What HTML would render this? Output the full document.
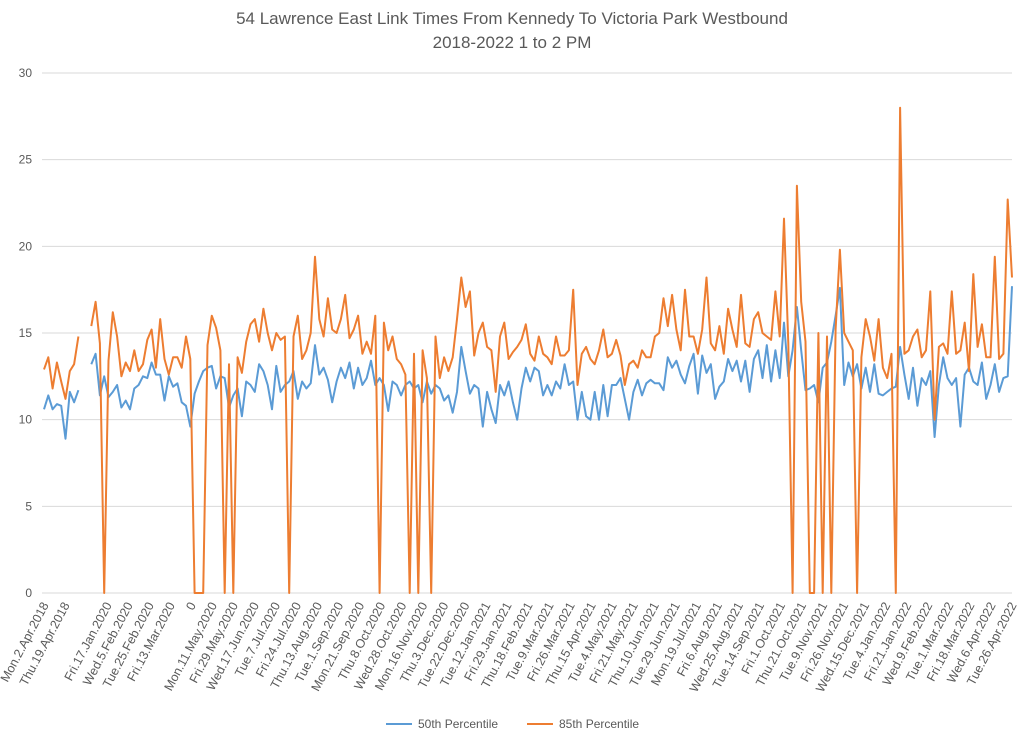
<!DOCTYPE html>
<html><head><meta charset="utf-8"><style>
body{margin:0;background:#fff;}
svg{display:block;font-family:"Liberation Sans",sans-serif;}
</style></head><body>
<svg id="chart" width="1024" height="740">
<text x="512" y="24" text-anchor="middle" font-size="17" fill="#595959">54 Lawrence East Link Times From Kennedy To Victoria Park Westbound</text>
<text x="512" y="48" text-anchor="middle" font-size="17" fill="#595959">2018-2022 1 to 2 PM</text>
<g id="grid"></g>
<g id="ylabels"></g>
<g id="xlabels"></g>
<g id="series"></g>
<g>
<line x1="386" y1="724" x2="412" y2="724" stroke="#5b9bd5" stroke-width="2"/>
<text x="418" y="728" font-size="12" fill="#595959">50th Percentile</text>
<line x1="527" y1="724" x2="553" y2="724" stroke="#ed7d31" stroke-width="2"/>
<text x="559" y="728" font-size="12" fill="#595959">85th Percentile</text>
</g>
</svg>
<script>
const yTicks=[0,5,10,15,20,25,30];
const xLabels=["Mon.2.Apr.2018","Thu.19.Apr.2018","","Fri.17.Jan.2020","Wed.5.Feb.2020","Tue.25.Feb.2020","Fri.13.Mar.2020","0","Mon.11.May.2020","Fri.29.May.2020","Wed.17.Jun.2020","Tue.7.Jul.2020","Fri.24.Jul.2020","Thu.13.Aug.2020","Tue.1.Sep.2020","Mon.21.Sep.2020","Thu.8.Oct.2020","Wed.28.Oct.2020","Mon.16.Nov.2020","Thu.3.Dec.2020","Tue.22.Dec.2020","Tue.12.Jan.2021","Fri.29.Jan.2021","Thu.18.Feb.2021","Tue.9.Mar.2021","Fri.26.Mar.2021","Thu.15.Apr.2021","Tue.4.May.2021","Fri.21.May.2021","Thu.10.Jun.2021","Tue.29.Jun.2021","Mon.19.Jul.2021","Fri.6.Aug.2021","Wed.25.Aug.2021","Tue.14.Sep.2021","Fri.1.Oct.2021","Thu.21.Oct.2021","Tue.9.Nov.2021","Fri.26.Nov.2021","Wed.15.Dec.2021","Tue.4.Jan.2022","Fri.21.Jan.2022","Wed.9.Feb.2022","Tue.1.Mar.2022","Fri.18.Mar.2022","Wed.6.Apr.2022","Tue.26.Apr.2022"];
const p50=[10.6,11.4,10.6,10.9,10.8,8.9,11.6,11.0,11.7,null,null,13.2,13.8,11.4,12.5,11.3,11.6,12.0,10.7,11.1,10.6,11.8,12.0,12.5,12.4,13.3,12.6,12.6,11.1,12.5,11.9,12.1,11.0,10.8,9.6,11.5,12.2,12.8,13.0,13.1,11.8,12.5,12.4,10.7,11.4,11.8,
10.2,12.2,12.0,11.6,13.2,12.8,12.0,10.6,13.1,11.6,12.0,12.2,12.8,11.2,12.2,11.8,12.1,14.3,12.6,13.0,12.3,11.0,12.2,13.0,12.4,13.3,11.8,13.0,12.0,12.4,13.4,12.0,12.4,12.0,10.5,12.2,12.0,11.4,12.0,12.2,11.8,12.0,11.0,12.2,
11.5,12.0,11.8,11.1,11.4,10.4,11.6,14.2,12.8,11.5,12.0,11.8,9.6,11.6,10.6,9.8,12.0,11.4,12.2,11.0,10.0,11.8,13.0,12.2,13.0,12.8,11.4,12.0,11.4,12.2,11.8,13.2,12.0,12.2,10.0,11.6,10.2,10.0,11.6,10.0,12.0,10.2,12.0,12.0,
12.4,11.2,10.0,11.6,12.3,11.4,12.1,12.3,12.1,12.1,11.7,13.6,13.0,13.4,12.6,12.1,13.1,13.8,11.5,13.7,12.7,13.2,11.2,11.9,12.2,13.5,12.8,13.4,12.2,13.4,11.6,13.5,14.0,12.4,14.3,12.2,14.0,12.4,15.6,12.5,14.0,16.5,14.0,11.7,11.8,
12.0,11.0,13.0,13.3,14.5,16.0,17.6,12.0,13.3,12.5,13.2,11.8,13.0,11.6,13.2,11.5,11.4,11.6,11.8,11.9,14.2,12.6,11.2,13.0,10.8,12.4,12.0,12.8,9.0,12.0,13.6,12.4,12.0,12.4,9.6,12.6,13.0,12.2,12.0,13.3,11.2,12.0,13.2,11.6,12.4,12.5,17.7];
const p85=[12.9,13.6,11.8,13.3,12.2,11.2,12.8,13.2,14.8,null,null,15.4,16.8,14.4,0,13.4,16.2,14.8,12.5,13.3,12.8,14.0,12.8,13.2,14.6,15.2,13.0,15.8,13.5,12.6,13.6,13.6,13.0,14.8,13.5,0,0,0,14.3,16.0,15.3,14.0,0,13.2,0,13.6,
12.7,14.5,15.5,15.8,14.5,16.4,15.0,14.0,15.0,14.6,14.8,0,14.8,16.0,13.5,14.0,15.0,19.4,15.8,14.8,17.0,15.2,15.0,15.8,17.2,14.7,15.2,16.0,13.8,14.5,13.8,16.0,0,15.6,14.0,14.8,13.5,13.2,12.6,0,13.8,0,14.0,12.4,
0,14.8,12.4,13.6,12.8,13.6,15.8,18.2,16.5,17.4,13.7,15.0,15.6,14.2,14.0,11.6,14.8,15.6,13.5,13.9,14.2,14.6,15.5,13.8,13.4,14.8,13.8,13.6,13.2,14.8,13.7,13.7,14.0,17.5,12.0,13.8,14.2,13.5,13.2,14.0,15.2,13.6,13.8,14.6,
13.7,12.0,13.2,13.4,13.0,14.0,13.6,13.6,14.8,15.0,17.0,15.4,17.2,15.2,14.0,17.5,14.8,14.8,13.8,15.2,18.2,14.4,14.0,15.4,13.8,16.4,15.2,14.2,17.2,14.4,14.2,15.8,16.2,15.0,14.8,14.6,17.4,14.8,21.6,14.4,0,23.5,16.8,14.5,0,
0,15.0,0,14.8,0,15.2,19.8,15.0,14.5,14.0,0,13.6,15.8,14.8,13.4,15.8,13.0,12.4,13.8,0,28.0,13.8,14.0,14.8,15.2,13.6,14.0,17.4,10.0,14.2,14.4,13.8,17.4,13.8,14.0,15.6,12.8,18.4,14.2,15.5,13.6,13.6,19.4,13.5,13.8,22.7,18.2];

const NS='http://www.w3.org/2000/svg';
const X0=44,X1=1012,Y0=593,Y30=73;
const N=p50.length;
function xs(i){return X0+(X1-X0)*i/(N-1);}
function ys(v){return Y0-(Y0-Y30)*v/30;}
const grid=document.getElementById('grid'),yl=document.getElementById('ylabels'),xl=document.getElementById('xlabels'),ser=document.getElementById('series');
yTicks.forEach(t=>{
  const l=document.createElementNS(NS,'line');
  l.setAttribute('x1',42);l.setAttribute('x2',1012);l.setAttribute('y1',ys(t));l.setAttribute('y2',ys(t));
  l.setAttribute('stroke','#d9d9d9');l.setAttribute('stroke-width','1');
  
  
  grid.appendChild(l);
  const tx=document.createElementNS(NS,'text');
  tx.setAttribute('x',32);tx.setAttribute('y',ys(t)+4);tx.setAttribute('text-anchor','end');
  tx.setAttribute('font-size','12');tx.setAttribute('fill','#595959');tx.textContent=t;
  
  
  yl.appendChild(tx);
});
const step=(N-1)/(xLabels.length-1);
xLabels.forEach((s,k)=>{
  if(!s)return;
  const x=xs(k*step)+5,y=605;
  const tx=document.createElementNS(NS,'text');
  tx.setAttribute('x',x);tx.setAttribute('y',y);tx.setAttribute('text-anchor','end');
  tx.setAttribute('font-size','12.5');tx.setAttribute('fill','#595959');
  tx.setAttribute('transform','rotate(-62 '+x+' '+y+')');tx.textContent=s;
  
  
  xl.appendChild(tx);
});
function draw(arr,color,name){
  let d='',pen=false;
  arr.forEach((v,i)=>{
    if(v===null){pen=false;return;}
    d+=(pen?'L':'M')+xs(i).toFixed(1)+' '+ys(v).toFixed(1)+' ';pen=true;
  });
  const p=document.createElementNS(NS,'path');
  p.setAttribute('d',d);p.setAttribute('fill','none');p.setAttribute('stroke',color);
  p.setAttribute('stroke-width','2');p.setAttribute('stroke-linejoin','round');
  
  
  ser.appendChild(p);
}
draw(p50,'#5b9bd5','line-50th-percentile');
draw(p85,'#ed7d31','line-85th-percentile');
</script>
</body></html>
